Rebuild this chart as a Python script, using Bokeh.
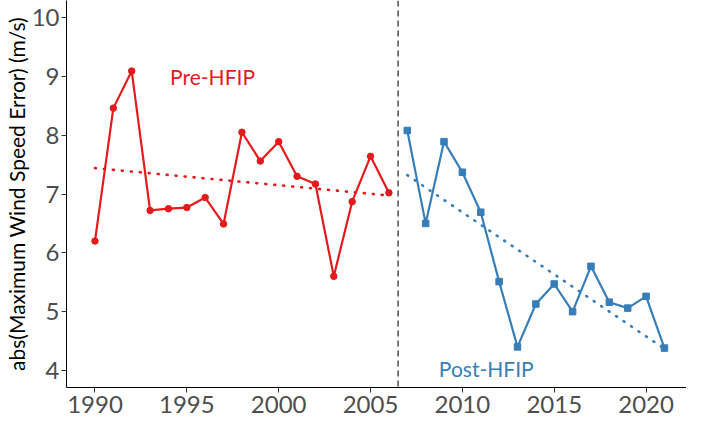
import numpy as np
from bokeh.plotting import figure
from bokeh.models import FixedTicker, Span, Label, ColumnDataSource, Range1d
from bokeh.embed import file_html
from bokeh.resources import INLINE

# ---- data ----
pre_years = list(range(1990, 2007))
pre_err = [6.20, 8.46, 9.09, 6.72, 6.75, 6.77, 6.94, 6.49, 8.05, 7.56, 7.89,
           7.30, 7.17, 5.60, 6.87, 7.64, 7.02]
post_years = list(range(2007, 2022))
post_err = [8.08, 6.50, 7.89, 7.37, 6.69, 5.51, 4.40, 5.13, 5.47, 5.00, 5.77,
            5.16, 5.06, 5.26, 4.38]
x_ticks = [1990, 1995, 2000, 2005, 2010, 2015, 2020]
y_ticks = [4, 5, 6, 7, 8, 9, 10]
divider_year = 2006.5
pre_label = ("Pre-HFIP", 1996.4, 9.0)
post_label = ("Post-HFIP", 2011.3, 4.03)
y_title = "abs(Maximum Wind Speed Error) (m/s)"

RED = "#E41A1C"
BLUE = "#377EB8"
FONT = "Lato"

p = figure(width=686, height=423, output_backend="svg", toolbar_location=None,
           x_range=Range1d(1988.45, 2022.2), y_range=Range1d(3.71, 10.29),
           min_border_left=66, min_border_right=0, min_border_top=0,
           min_border_bottom=36)
p.outline_line_color = None
p.xgrid.grid_line_color = None
p.ygrid.grid_line_color = None
p.background_fill_color = "white"

for ax in (p.xaxis, p.yaxis):
    ax.axis_line_color = "black"
    ax.axis_line_width = 1
    ax.major_tick_line_color = "#333333"
    ax.major_tick_out = 5
    ax.major_tick_in = 0
    ax.minor_tick_line_color = None
    ax.major_label_text_font = FONT
    ax.major_label_text_font_size = "24px"
    ax.major_label_text_color = "#4D4D4D"
    ax.major_label_standoff = 3
p.yaxis.major_label_standoff = 2

p.xaxis.ticker = FixedTicker(ticks=x_ticks)
p.yaxis.ticker = FixedTicker(ticks=y_ticks)
p.yaxis.axis_label = y_title
p.yaxis.axis_label_text_font = FONT
p.yaxis.axis_label_text_font_size = "21px"
p.yaxis.axis_label_text_font_style = "normal"
p.yaxis.axis_label_text_color = "black"
p.yaxis.axis_label_standoff = 0

# trend lines (linear fits)
pre_fit = np.polyfit(pre_years, pre_err, 1)
post_fit = np.polyfit(post_years, post_err, 1)
pre_x = [pre_years[0], pre_years[-1]]
post_x = [post_years[0], post_years[-1]]
p.line(pre_x, list(np.polyval(pre_fit, pre_x)), line_color=RED, line_width=2.6,
       line_dash="1 8", line_cap="round")
p.line(post_x, list(np.polyval(post_fit, post_x)), line_color=BLUE, line_width=2.6,
       line_dash="1 8", line_cap="round")

pre_src = ColumnDataSource(dict(x=pre_years, y=pre_err))
post_src = ColumnDataSource(dict(x=post_years, y=post_err))
p.line("x", "y", source=pre_src, line_color=RED, line_width=2.2)
p.scatter("x", "y", source=pre_src, marker="circle", size=6.5, fill_color=RED,
          line_color=RED)
p.line("x", "y", source=post_src, line_color=BLUE, line_width=2.2)
p.scatter("x", "y", source=post_src, marker="square", size=6.5, fill_color=BLUE,
          line_color=BLUE)

p.add_layout(Span(location=divider_year, dimension="height", line_color="#222222",
                  line_width=1.2, line_dash="6 4"))

for (txt, lx, ly), col in ((pre_label, RED), (post_label, BLUE)):
    p.add_layout(Label(x=lx, y=ly, text=txt, text_color=col, text_font=FONT,
                       text_font_size="21px", text_align="center",
                       text_baseline="middle"))

open("out.html", "w").write(file_html(p, INLINE))
